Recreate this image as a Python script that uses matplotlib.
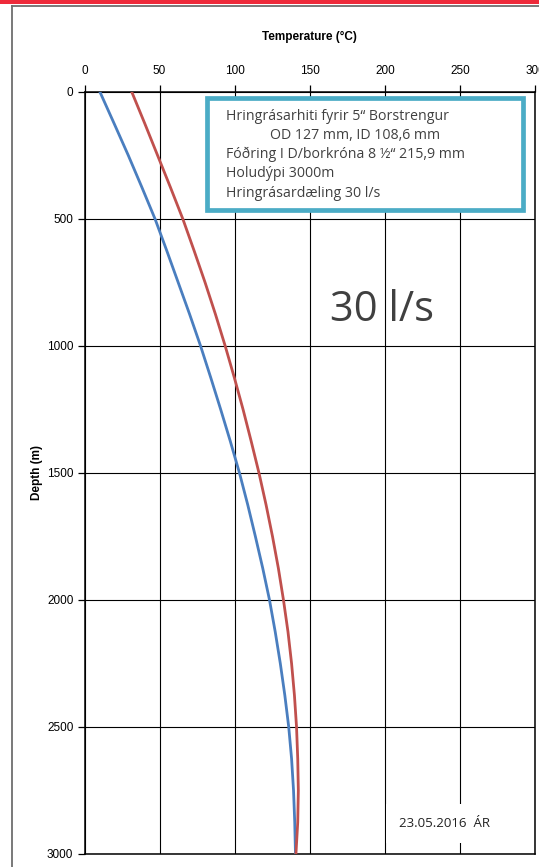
import numpy as np
import matplotlib
matplotlib.use('Agg')
import matplotlib.pyplot as plt
from matplotlib.lines import Line2D
from matplotlib.patches import Rectangle

# depth (m) and circulation temperature (C)
depth = [0, 125, 250, 375, 500, 625, 750, 875, 1000, 1125, 1250, 1375, 1500,
         1625, 1750, 1875, 2000, 2125, 2250, 2375, 2500, 2625, 2750, 2875, 3000]
t_blue = [10.3, 19.8, 29.2, 38.2, 47.0, 54.8, 62.4, 70.0, 77.3, 84.1, 90.7, 97.1, 103.2,
          108.7, 113.8, 118.7, 123.2, 127.0, 130.4, 133.4, 136.0, 137.9, 139.2, 140.0, 140.5]
t_red = [31.5, 40.2, 48.7, 57.2, 65.5, 73.0, 80.3, 87.2, 93.7, 99.8, 105.6, 111.0, 116.2,
         120.9, 125.2, 129.1, 132.5, 135.5, 137.9, 139.8, 141.2, 142.0, 142.4, 142.0, 140.8]

xticks = [0, 50, 100, 150, 200, 250, 300]
yticks = [0, 500, 1000, 1500, 2000, 2500, 3000]

info = ['Hringrásarhiti fyrir 5\u201c Borstrengur',
        'OD 127 mm, ID 108,6 mm',
        'Fóðring I D/borkróna 8 ½\u201c 215,9 mm',
        'Holudýpi 3000m',
        'Hringrásardæling 30 l/s']
indent = [226, 270, 226, 226, 226]

W, H = 539, 867
fig = plt.figure(figsize=(W / 100, H / 100), dpi=100)
plt.rcParams['font.family'] = ['Liberation Sans', 'DejaVu Sans']

# page decoration: red strip and grey frame
fig.add_artist(Rectangle((0, 1 - 3.5 / H), 1, 3.5 / H, transform=fig.transFigure,
                         color='#EE2A3A', lw=0))
fig.add_artist(Line2D([12.5 / W, 12.5 / W], [0, 1 - 5.5 / H], transform=fig.transFigure,
                      color='#6E6E6E', lw=1.3))
fig.add_artist(Line2D([12.5 / W, 1], [1 - 5.5 / H, 1 - 5.5 / H], transform=fig.transFigure,
                      color='#6E6E6E', lw=1.3))

x0, x1 = 84.5, 535.0
y0, y1 = 92.0, 854.0
ax = fig.add_axes([x0 / W, 1 - y1 / H, (x1 - x0) / W, (y1 - y0) / H])

ax.plot(t_blue, depth, color='#4A7EBF', lw=2.0, zorder=3)
ax.plot(t_red, depth, color='#C0504D', lw=2.0, zorder=3)

ax.set_xlim(0, 300)
ax.set_ylim(3000, 0)
ax.set_xticks(xticks)
ax.set_yticks(yticks)
ax.xaxis.tick_top()
ax.xaxis.set_label_position('top')
ax.grid(True, color='black', lw=0.8)
ax.set_axisbelow(True)
for s in ax.spines.values():
    s.set_linewidth(1.1)
ax.tick_params(axis='both', direction='out', length=5, width=0.9, labelsize=8.5, pad=3)
ax.tick_params(axis='x', pad=6)

ax.set_xlabel('Temperature (°C)', fontsize=8.5, fontweight='bold', labelpad=18)
ax.set_ylabel('Depth (m)', fontsize=8.5, fontweight='bold', labelpad=3)

# description box
box = Rectangle((207 / W, 1 - 210 / H), (523 - 207) / W, (210 - 98) / H,
                transform=fig.transFigure, facecolor='white', edgecolor='#4BACC6',
                lw=3.4, zorder=5)
fig.add_artist(box)
for i, line in enumerate(info):
    fig.text(indent[i] / W, 1 - (116 + i * 19.3) / H, line, fontsize=10.2, color='#404040',
             family=['Open Sans', 'DejaVu Sans'], va='center', zorder=6)

ax.text(198, 860, '30 l/s', fontsize=30, color='#404040', ha='center', va='center',
        family=['Open Sans', 'DejaVu Sans'], zorder=4)
ax.text(240, 2880, '23.05.2016  ÁR', fontsize=9.5, color='#222222', ha='center',
        va='center', family=['Open Sans', 'DejaVu Sans'], zorder=4,
        bbox=dict(facecolor='white', edgecolor='none', pad=9.5))

fig.savefig('out.png', dpi=100)
